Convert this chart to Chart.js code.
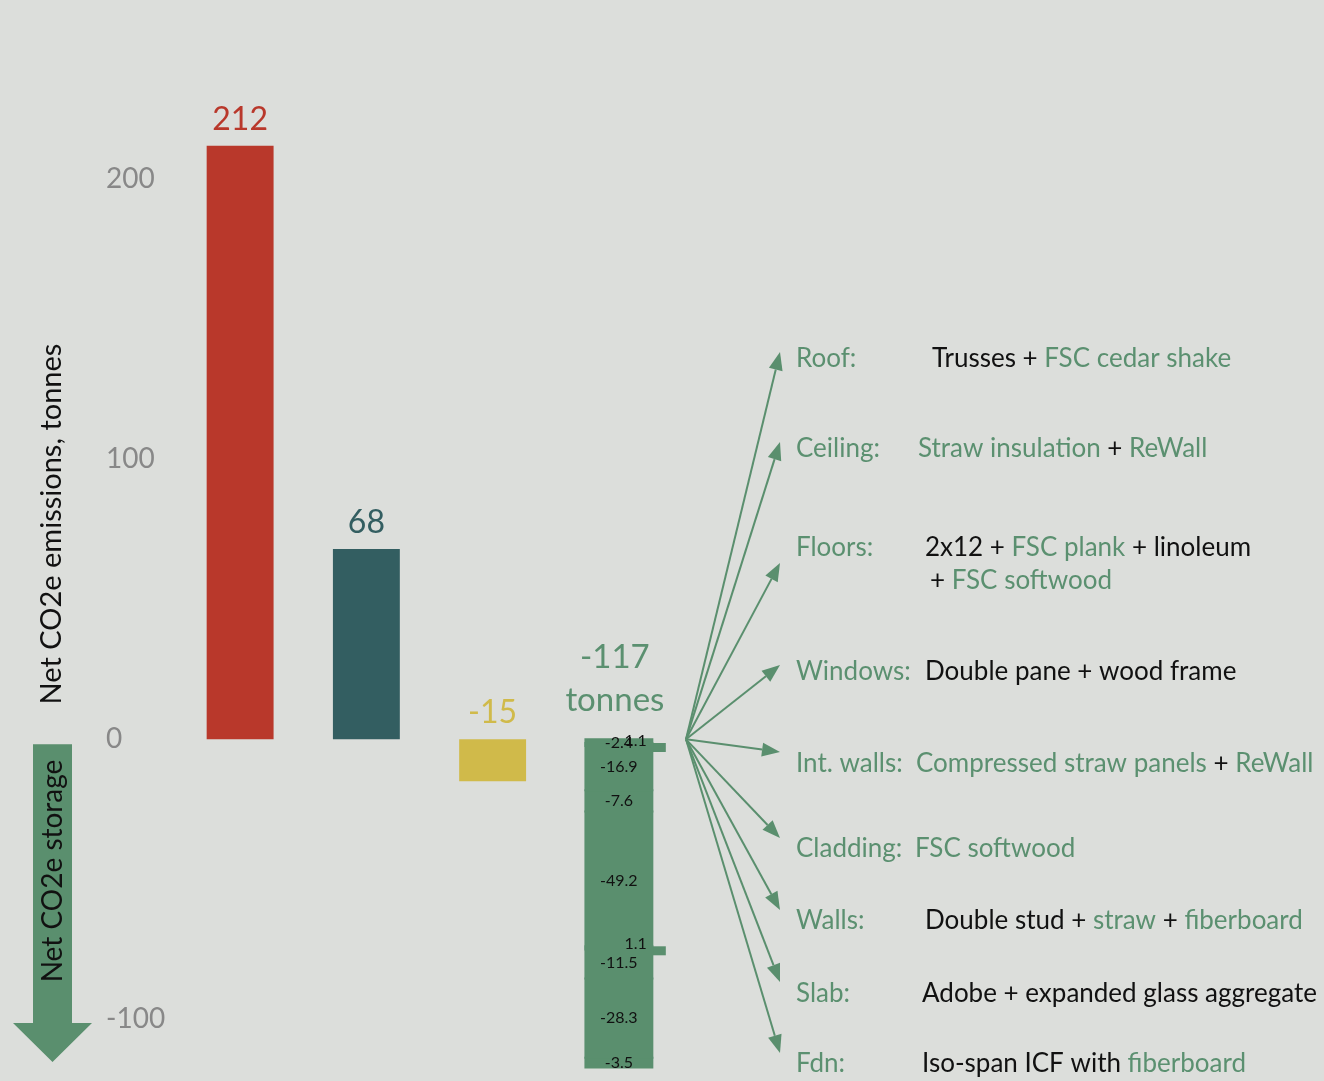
<!DOCTYPE html>
<html>
<head>
<meta charset="utf-8">
<script src="https://cdn.jsdelivr.net/npm/chart.js@4.4.1/dist/chart.umd.min.js"></script>
<style>
  html, body { margin: 0; padding: 0; background: #dcdedb; }
  #wrap { width: 1324px; height: 1081px; position: relative; }
</style>
</head>
<body>
<div id="wrap"><canvas id="chart"></canvas></div>
<script>
// --- data ---
const barCategories = ['A', 'B', 'C', 'D'];
const barValues = [212, 68, -15];
const yTicks = [200, 100, 0, -100];

const components = ['Roof:', 'Ceiling:', 'Floors:', 'Windows:', 'Int. walls:', 'Cladding:', 'Walls:', 'Slab:', 'Fdn:'];
const componentValues = [-2.4, 1.1, -16.9, -7.6, -49.2, 1.1, -11.5, -28.3, -3.5];
// text in {braces} is drawn green
const componentDetails = [
  'Trusses + {FSC cedar shake}',
  '{Straw insulation} + {ReWall}',
  '2x12 + {FSC plank} + linoleum\n+ {FSC softwood}',
  'Double pane + wood frame',
  '{Compressed straw panels} + {ReWall}',
  '{FSC softwood}',
  'Double stud + {straw} + {fiberboard}',
  'Adobe + expanded glass aggregate',
  'Iso-span ICF with {fiberboard}'
];

// --- styles / layout ---
const barColors = ['#b9382b', '#335e61', '#d0ba4a'];
const GREEN = '#5a8f6e';
const TEXT_GREEN = '#5b9070';
const FONT = 'Lato';
const rowY = [359, 449, 548, 672, 764, 849, 921, 994, 1064];
const tipY = [352, 442, 563, 665, 752, 838, 910, 982, 1053];
const detailX = [932, 918, 925, 925, 916, 915, 925, 922, 922];
const LABEL_X = 796;
const TIP_X = 780;

// main bars
const datasets = [{
  data: [...barValues, null],
  backgroundColor: barColors,
  barPercentage: 0.53,
  categoryPercentage: 1,
  grouped: false,
  order: 1
}];

// green waterfall, one floating bar per component
let running = 0;
componentValues.forEach((v, i) => {
  const from = running;
  running += v;
  const up = v > 0;
  datasets.push({
    data: [null, null, null, [from, running]],
    backgroundColor: GREEN,
    barPercentage: up ? 0.11 : 0.53,
    categoryPercentage: 1,
    grouped: false,
    inflateAmount: up ? 'auto' : 1,
    minBarLength: up ? 9 : 0,
    shiftX: up ? 40 : 0,
    order: up ? 2 : 1,
    segIndex: i
  });
});
const total = Math.round(running);

// pushes the positive tabs out to the right of the green bar
const shiftPlugin = {
  id: 'shift',
  beforeDatasetDraw(chart, args) {
    chart.ctx.save();
    chart.ctx.translate(chart.data.datasets[args.index].shiftX || 0, 0);
  },
  afterDatasetDraw(chart) {
    chart.ctx.restore();
  }
};

function drawRich(ctx, str, x, y) {
  const lines = str.split('\n');
  lines.forEach((line, li) => {
    let cx = x + (li ? 5 : 0);
    const cy = y + li * 33;
    line.split(/(\{[^}]*\})/).forEach(part => {
      if (!part) return;
      const green = part.startsWith('{');
      const txt = green ? part.slice(1, -1) : part;
      ctx.fillStyle = green ? TEXT_GREEN : '#111';
      ctx.fillText(txt, cx, cy);
      cx += ctx.measureText(txt).width;
    });
  });
}

const annotatePlugin = {
  id: 'annotate',
  afterDraw(chart) {
    const { ctx, chartArea, scales: { y } } = chart;
    const zeroY = y.getPixelForValue(0);
    ctx.save();

    // value labels on the single bars
    ctx.font = `32px ${FONT}`;
    ctx.textAlign = 'center';
    ctx.textBaseline = 'alphabetic';
    chart.getDatasetMeta(0).data.forEach((bar, i) => {
      if (barValues[i] == null) return;
      ctx.fillStyle = barColors[i];
      ctx.fillText(String(barValues[i]), bar.x, Math.min(bar.y, bar.base) - 16);
    });

    // total over the green stack
    const greenX = chart.getDatasetMeta(1).data[3].x;
    ctx.font = `33px ${FONT}`;
    ctx.fillStyle = TEXT_GREEN;
    ctx.fillText(String(total), greenX - 4, zeroY - 71);
    ctx.fillText('tonnes', greenX - 4, zeroY - 28);

    // segment labels
    ctx.font = `16px ${FONT}`;
    ctx.fillStyle = '#111';
    ctx.textBaseline = 'middle';
    for (let d = 1; d < chart.data.datasets.length; d++) {
      const ds = chart.data.datasets[d];
      const el = chart.getDatasetMeta(d).data[3];
      const v = componentValues[ds.segIndex];
      if (v > 0) {
        ctx.textAlign = 'right';
        ctx.fillText(String(v), el.x + 28, Math.min(el.y, el.base) - 2);
      } else {
        ctx.textAlign = 'center';
        ctx.fillText(String(v), el.x, (el.y + el.base) / 2);
      }
    }

    // arrows from the stack to the component list
    const ox = chartArea.right + 4;
    ctx.strokeStyle = GREEN;
    ctx.fillStyle = GREEN;
    ctx.lineWidth = 2;
    tipY.forEach(ty => {
      const ang = Math.atan2(ty - zeroY, TIP_X - ox);
      const hl = 18, hw = 7;
      const bx = TIP_X - Math.cos(ang) * hl, by = ty - Math.sin(ang) * hl;
      ctx.beginPath();
      ctx.moveTo(ox, zeroY);
      ctx.lineTo(bx, by);
      ctx.stroke();
      ctx.beginPath();
      ctx.moveTo(TIP_X, ty);
      ctx.lineTo(bx + Math.sin(ang) * hw, by - Math.cos(ang) * hw);
      ctx.lineTo(bx - Math.sin(ang) * hw, by + Math.cos(ang) * hw);
      ctx.closePath();
      ctx.fill();
    });

    // component names and descriptions
    ctx.font = `26px ${FONT}`;
    ctx.textAlign = 'left';
    ctx.textBaseline = 'middle';
    components.forEach((name, i) => {
      ctx.fillStyle = TEXT_GREEN;
      ctx.fillText(name, LABEL_X, rowY[i]);
      drawRich(ctx, componentDetails[i], detailX[i], rowY[i]);
    });

    // y axis title
    ctx.fillStyle = '#111';
    ctx.font = `29px ${FONT}`;
    ctx.textAlign = 'center';
    ctx.save();
    ctx.translate(52, 524);
    ctx.rotate(-Math.PI / 2);
    ctx.fillText('Net CO2e emissions, tonnes', 0, 0);
    ctx.restore();

    // storage arrow
    ctx.fillStyle = GREEN;
    ctx.beginPath();
    ctx.moveTo(33, zeroY + 5);
    ctx.lineTo(72, zeroY + 5);
    ctx.lineTo(72, 1023);
    ctx.lineTo(92, 1023);
    ctx.lineTo(52.5, 1062);
    ctx.lineTo(13, 1023);
    ctx.lineTo(33, 1023);
    ctx.closePath();
    ctx.fill();
    ctx.fillStyle = '#111';
    ctx.font = `28px ${FONT}`;
    ctx.save();
    ctx.translate(53, 871);
    ctx.rotate(-Math.PI / 2);
    ctx.fillText('Net CO2e storage', 0, 0);
    ctx.restore();

    ctx.restore();
  }
};

new Chart(document.getElementById('chart'), {
  type: 'bar',
  data: { labels: barCategories, datasets },
  options: {
    responsive: true,
    maintainAspectRatio: false,
    animation: false,
    layout: { padding: { left: 106, right: 642, top: 0, bottom: 0 } },
    scales: {
      x: { display: false },
      y: {
        min: -122,
        max: 264,
        afterBuildTicks(scale) { scale.ticks = yTicks.map(v => ({ value: v })); },
        afterFit(scale) { scale.width = 71; scale.paddingTop = 0; scale.paddingBottom = 0; },
        grid: { display: false },
        border: { display: false },
        ticks: { color: '#888', font: { family: FONT, size: 28 }, crossAlign: 'far', padding: 0 }
      }
    },
    plugins: { legend: { display: false }, tooltip: { enabled: false } }
  },
  plugins: [shiftPlugin, annotatePlugin]
});
</script>
</body>
</html>
